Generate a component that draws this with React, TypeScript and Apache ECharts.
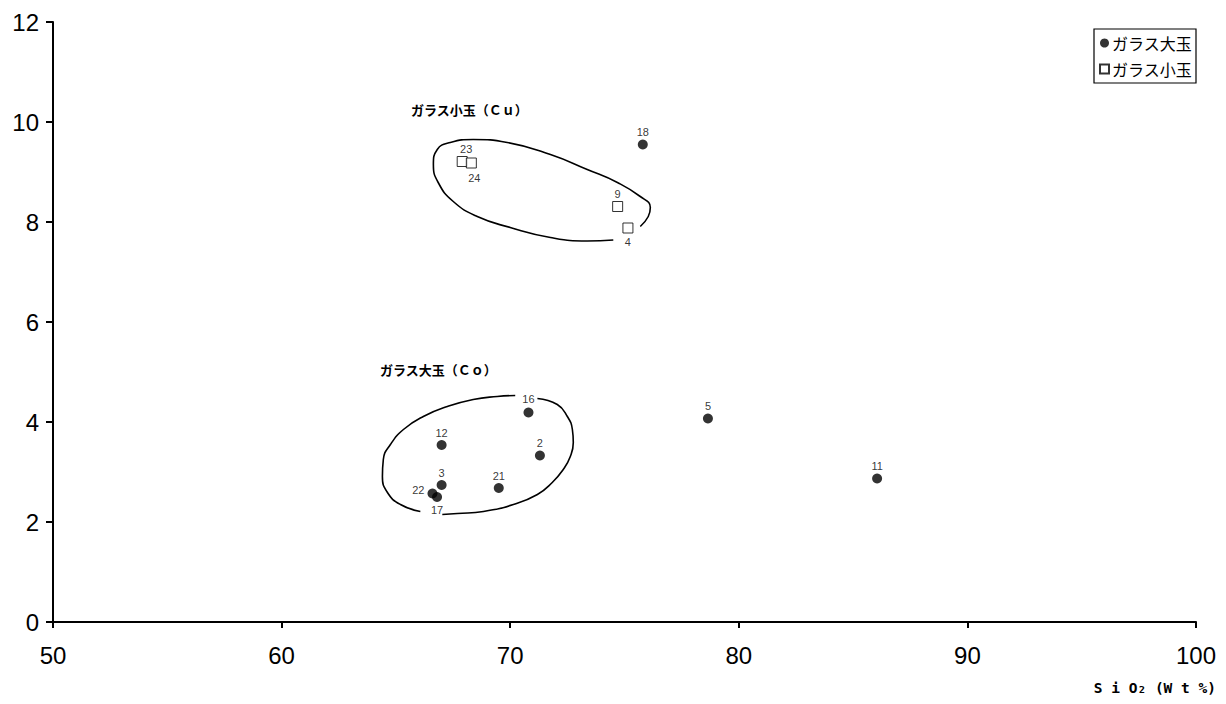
import React, { useEffect, useRef } from "react";
import * as echarts from "echarts";

// ガラス大玉 (large glass beads)
const largeNames = ["18", "5", "11", "16", "2", "12", "3", "21", "22", "17"];
const largeX = [75.8, 78.65, 86.05, 70.8, 71.3, 67.0, 67.0, 69.5, 66.6, 66.8];
const largeY = [9.55, 4.07, 2.87, 4.19, 3.33, 3.54, 2.74, 2.68, 2.57, 2.5];

// ガラス小玉 (small glass beads)
const smallNames = ["23", "24", "9", "4"];
const smallX = [67.9, 68.3, 74.7, 75.15];
const smallY = [9.21, 9.18, 8.31, 7.88];

// group outlines (data units)
const coOutlineX = [71.19, 72.06, 72.5, 72.72, 72.76, 72.63, 72.32, 71.84, 71.19, 70.14, 68.83, 67.69, 67.03];
const coOutlineY = [4.47, 4.35, 4.11, 3.85, 3.59, 3.31, 3.05, 2.79, 2.55, 2.35, 2.21, 2.17, 2.15];
const coOutline2X = [66.07, 65.2, 64.63, 64.41, 64.45, 64.76, 65.33, 66.2, 67.25, 68.38, 69.43, 70.22];
const coOutline2Y = [2.21, 2.35, 2.59, 2.91, 3.25, 3.55, 3.85, 4.11, 4.31, 4.45, 4.51, 4.53];
const cuOutlineX = [74.51, 73.37, 71.76, 70.0, 68.56, 67.51, 66.85, 66.64, 66.81, 67.38, 68.38, 69.87, 71.76, 73.37, 74.69, 75.69, 76.13, 76.04, 75.69];
const cuOutlineY = [7.64, 7.62, 7.69, 7.89, 8.11, 8.41, 8.79, 9.15, 9.45, 9.59, 9.65, 9.59, 9.35, 9.05, 8.79, 8.51, 8.29, 8.11, 7.91];

const xTicks = [50, 60, 70, 80, 90, 100];
const yTicks = [0, 2, 4, 6, 8, 10, 12];

const labelStyle: Record<string, any> = {
  "22": { position: "left", distance: 3, offset: [0, -4] },
  "17": { position: "bottom", distance: 2 },
  "24": { position: "bottom", distance: 4, offset: [3, 0] },
  "4": { position: "bottom", distance: 3 },
  "23": { position: "top", distance: 2, offset: [4, 0] },
  "16": { position: "top", distance: 3 },
};

const FONT = "'Liberation Sans', Arial, sans-serif";
const JP = "'Noto Sans CJK JP', sans-serif";

function pts(names: string[], xs: number[], ys: number[]) {
  return names.map((n, i) => ({
    name: n,
    value: [xs[i], ys[i]],
    label: labelStyle[n] || undefined,
  }));
}

function outline(xs: number[], ys: number[]) {
  return xs.map((x, i) => [x, ys[i]]);
}

export default function App() {
  const ref = useRef<HTMLDivElement>(null);
  useEffect(() => {
    document.body.style.margin = "0";
    const chart = echarts.init(ref.current!, undefined, { renderer: "svg" });
    const lineSeries = (data: number[][]) => ({
      type: "line",
      data,
      smooth: 0.5,
      showSymbol: false,
      symbol: "none",
      silent: true,
      lineStyle: { color: "#000", width: 1.6 },
      z: 1,
    });
    chart.setOption({
      animation: false,
      backgroundColor: "#fff",
      grid: { left: 53, right: 30, top: 22, bottom: 82 },
      legend: {
        orient: "vertical",
        right: 30,
        top: 29,
        data: ["ガラス大玉", "ガラス小玉"],
        borderColor: "#000",
        borderWidth: 1.2,
        padding: [6, 4, 6, 5],
        itemGap: 10,
        itemWidth: 9,
        itemHeight: 9,
        textStyle: { fontFamily: JP, fontSize: 16, color: "#000", padding: [0, 0, 0, -2] },
      },
      xAxis: {
        type: "value",
        min: 50,
        max: 100,
        interval: 10,
        splitLine: { show: false },
        axisLine: { show: true, lineStyle: { color: "#000", width: 2 } },
        axisTick: { show: true, inside: false, length: 6, lineStyle: { color: "#000", width: 2 } },
        axisLabel: { fontFamily: FONT, fontSize: 24, color: "#000", margin: 21,
          formatter: (v: number) => (xTicks.includes(v) ? String(v) : "") },
      },
      yAxis: {
        type: "value",
        min: 0,
        max: 12,
        interval: 2,
        splitLine: { show: false },
        axisLine: { show: true, lineStyle: { color: "#000", width: 2 } },
        axisTick: { show: true, inside: false, length: 7, lineStyle: { color: "#000", width: 2 } },
        axisLabel: { fontFamily: FONT, fontSize: 24, color: "#000", margin: 14,
          formatter: (v: number) => (yTicks.includes(v) ? String(v) : "") },
      },
      graphic: [
        { type: "text", left: 411, top: 103, style: { text: "ガラス小玉（Ｃｕ）", fontFamily: JP, fontSize: 13, fontWeight: "bold", fill: "#000" } },
        { type: "text", left: 380, top: 363, style: { text: "ガラス大玉（Ｃｏ）", fontFamily: JP, fontSize: 13, fontWeight: "bold", fill: "#000" } },
        { type: "text", right: 10, top: 680, style: { text: "S i O₂ (W t %)", fontFamily: "'DejaVu Sans Mono', monospace", fontSize: 14.5, fontWeight: "bold", fill: "#000" } },
      ],
      series: [
        lineSeries(outline(coOutlineX, coOutlineY)),
        lineSeries(outline(coOutline2X, coOutline2Y)),
        lineSeries(outline(cuOutlineX, cuOutlineY)),
        {
          name: "ガラス大玉",
          type: "scatter",
          symbol: "circle",
          symbolSize: 10,
          itemStyle: { color: "#000" },
          data: pts(largeNames, largeX, largeY),
          label: { show: true, formatter: "{b}", position: "top", distance: 2, fontFamily: FONT, fontSize: 11, color: "#000" },
          z: 3,
        },
        {
          name: "ガラス小玉",
          type: "scatter",
          symbol: "rect",
          symbolSize: 10,
          itemStyle: { color: "#fff", borderColor: "#000", borderWidth: 1 },
          data: pts(smallNames, smallX, smallY),
          label: { show: true, formatter: "{b}", position: "top", distance: 2, fontFamily: FONT, fontSize: 11, color: "#000" },
          z: 3,
        },
      ],
    });
    return () => chart.dispose();
  }, []);
  return <div ref={ref} style={{ width: 1226, height: 704, position: "fixed", left: 0, top: 0 }} />;
}
